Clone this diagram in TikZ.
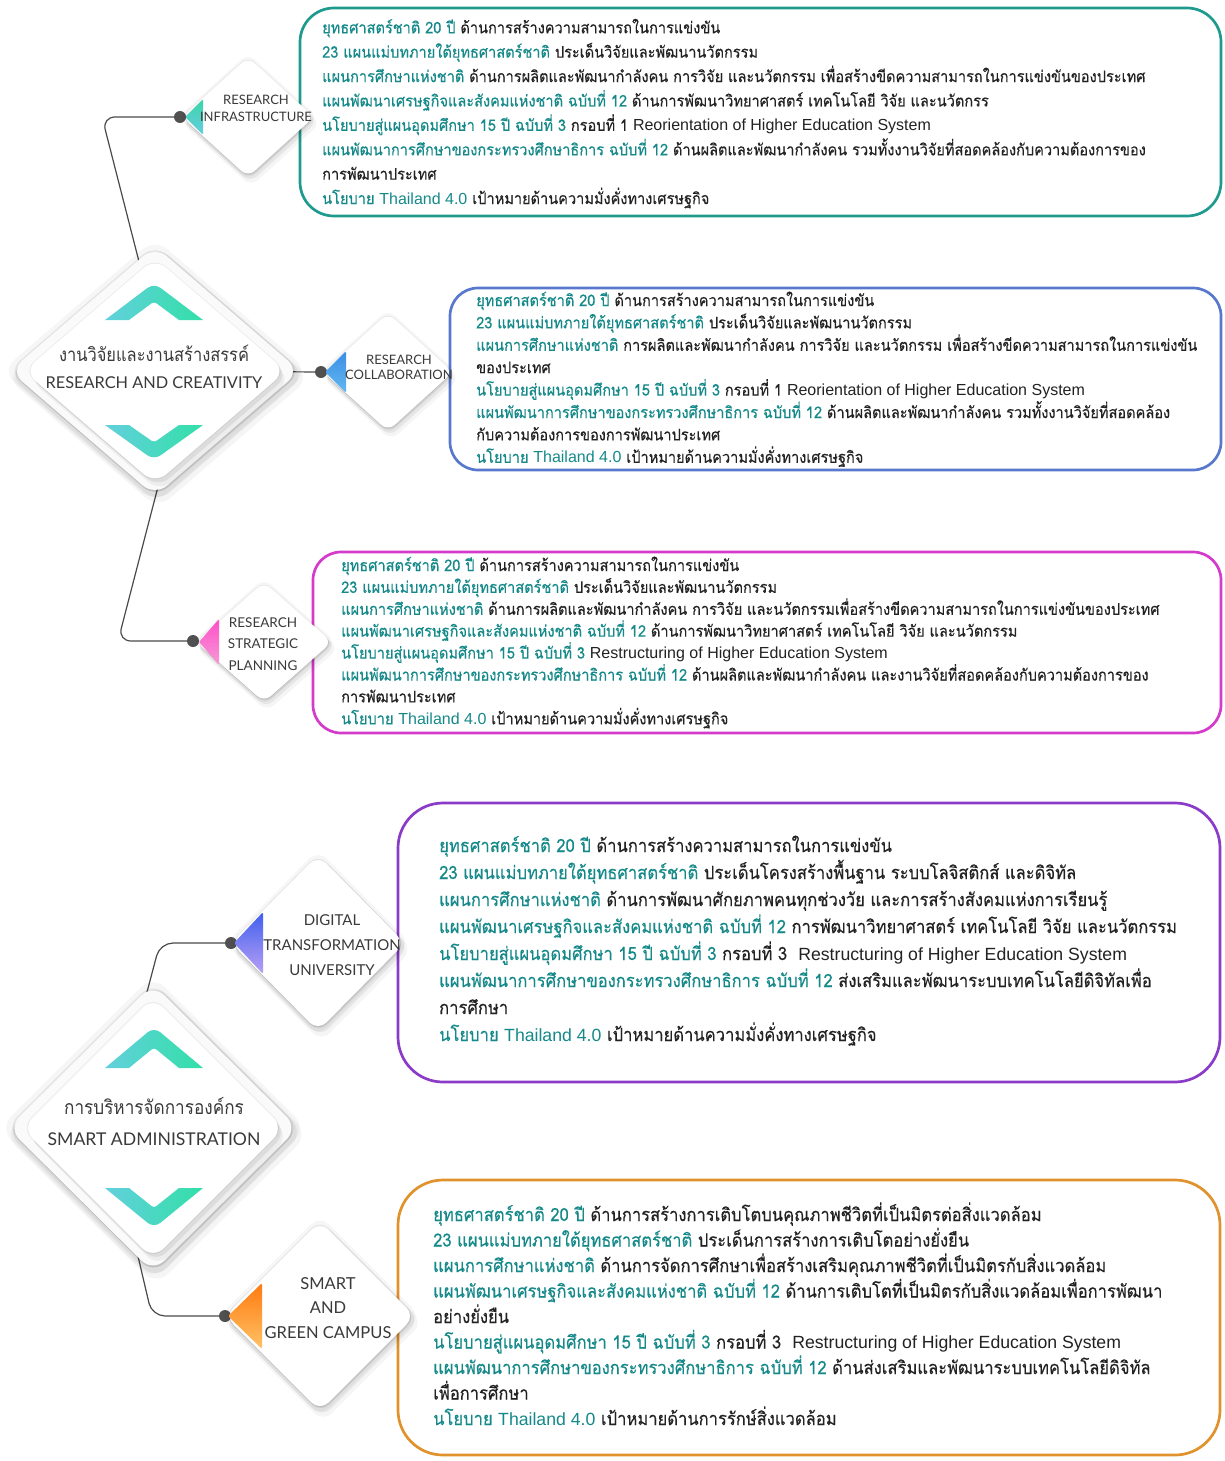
\documentclass[tikz,border=0pt]{standalone}
\usepackage{fontspec}
\usetikzlibrary{shapes.geometric,shadows}
\newfontfamily\thaifont[Script=Thai,FakeStretch=0.91,FakeBold=0.3]{Loma}
\newfontfamily\thaimain[Script=Thai,FakeStretch=0.88]{Loma}
\newfontfamily\enfont{Liberation Sans}
\newfontfamily\enfontL[Scale=0.97]{Liberation Sans}
\newfontfamily\labfont{Lato}
\definecolor{hlc}{HTML}{158989}
\definecolor{txtc}{HTML}{222222}
\definecolor{labc}{HTML}{3A3A3A}
\definecolor{conc}{HTML}{4A4A4A}
\definecolor{dotc}{HTML}{505050}
\definecolor{cTeal}{HTML}{1E9A8E}
\definecolor{cBlue}{HTML}{5878CE}
\definecolor{cMag}{HTML}{D53BCB}
\definecolor{cPur}{HTML}{8A3CC8}
\definecolor{cOra}{HTML}{E0922C}
\definecolor{chL}{HTML}{62D0DC}
\definecolor{chR}{HTML}{33DFA8}
\definecolor{tIa}{HTML}{3AD6A8}\definecolor{tIb}{HTML}{68CCE0}
\definecolor{tCa}{HTML}{3A8EE6}\definecolor{tCb}{HTML}{64B8EF}
\definecolor{tPa}{HTML}{FF4FC8}\definecolor{tPb}{HTML}{F59AD6}
\definecolor{tDa}{HTML}{4060EE}\definecolor{tDb}{HTML}{B8A0F5}
\definecolor{tGa}{HTML}{FF7A10}\definecolor{tGb}{HTML}{FFC266}
\pgfdeclarelayer{bg}
\pgfsetlayers{bg,main}
\newcommand\hl[1]{\textcolor{hlc}{#1}}
\newcommand\en[1]{{\enfont #1}}
\newcommand\enL[1]{{\enfontL #1}}
\newcommand\chevron[3]{% cx, ybase, signed height
  \shade[left color=chL, right color=chR] ({#1-49},#2) [rounded corners=8pt]-- (#1,{#2+(#3)}) [sharp corners]-- ({#1+49},#2) -- ({#1+25},#2) [rounded corners=3pt]-- (#1,{#2+(#3)/2}) [sharp corners]-- ({#1-25},#2) -- cycle;}
\newcommand\tri[6]{% apex x, y, right x, half height, top colour, bottom colour
  \shade[top color=#5, bottom color=#6, rounded corners=1.5pt] (#1,#2) -- (#3,{#2-#4}) -- (#3,{#2+#4}) -- cycle;}
\tikzset{
  x=1pt, y=-1pt,
  tx/.style={anchor=base west, inner sep=0pt, text=txtc},
  txS/.style={tx, font=\thaifont\fontsize{16}{18}\selectfont},
  txL/.style={tx, font=\thaifont\fontsize{18.2}{20}\selectfont},
  frame/.style={draw=#1, line width=2.7pt, fill=white, anchor=north west, inner sep=0pt, outer sep=0pt},
  softshadow/.style={
    general shadow={fill=black, opacity=0.035, shadow scale=1.06},
    general shadow={fill=black, opacity=0.04, shadow xshift=3pt, shadow yshift=-6pt, shadow scale=1.05},
    general shadow={fill=black, opacity=0.06, shadow xshift=2pt, shadow yshift=-4pt, shadow scale=1.025},
    general shadow={fill=black, opacity=0.07, shadow scale=1.015},
    general shadow={fill=black, opacity=0.07, shadow xshift=1pt, shadow yshift=-2pt}},
  sdiam/.style={diamond, fill=white, inner sep=0pt, outer sep=0pt, rounded corners=9pt, softshadow},
  mainout/.style={diamond, fill=black!2, inner sep=0pt, outer sep=0pt, rounded corners=16pt, softshadow},
  mainin/.style={diamond, fill=white, inner sep=0pt, outer sep=0pt, rounded corners=15pt,
    general shadow={fill=black, opacity=0.05, shadow xshift=5pt, shadow yshift=-8pt},
    general shadow={fill=black, opacity=0.07, shadow xshift=3pt, shadow yshift=-4pt},
    general shadow={fill=black, opacity=0.06, shadow scale=1.01}},
  dotn/.style={circle, fill=dotc, minimum size=12pt, inner sep=0pt},
  conn/.style={draw=conc, line width=1.2pt, rounded corners=13pt},
  lab/.style={font=\labfont\fontsize{#1}{#1}\selectfont, text=labc, inner sep=0pt, anchor=base},
  mthai/.style={font=\thaimain\fontsize{#1}{#1}\selectfont, text=labc, inner sep=0pt, anchor=base},
}
\begin{document}
\begin{tikzpicture}
\begin{pgfonlayer}{bg}
\fill[white] (0,0) rectangle (1224,1461);
\end{pgfonlayer}
\useasboundingbox (0,0) rectangle (1224,1461);

% ---------- text frames ----------
\node[frame=cTeal, rounded corners=34pt, minimum width=921pt, minimum height=208pt] (box1) at (300,8) {};
\node[frame=cBlue, rounded corners=28pt, minimum width=771pt, minimum height=182pt] (box2) at (450,288) {};
\node[frame=cMag, rounded corners=28pt, minimum width=908pt, minimum height=181pt] (box3) at (313,552) {};
\node[frame=cPur, rounded corners=45pt, minimum width=822pt, minimum height=279pt] (box4) at (398,803) {};
\node[frame=cOra, rounded corners=45pt, minimum width=822pt, minimum height=275pt] (box5) at (398,1180) {};

% ---------- box 1 ----------
\node[txS] (b1l1) at (322,33.3) {\hl{ยุทธศาสตร์ชาติ 20 ปี} ด้านการสร้างความสามารถในการแข่งขัน};
\node[txS] (b1l2) at (322,57.7) {\hl{23 แผนแม่บทภายใต้ยุทธศาสตร์ชาติ} ประเด็นวิจัยและพัฒนานวัตกรรม};
\node[txS] (b1l3) at (322,82.1) {\hl{แผนการศึกษาแห่งชาติ} ด้านการผลิตและพัฒนากำลังคน การวิจัย และนวัตกรรม เพื่อสร้างขีดความสามารถในการแข่งขันของประเทศ};
\node[txS] (b1l4) at (322,106.5) {\hl{แผนพัฒนาเศรษฐกิจและสังคมแห่งชาติ ฉบับที่ 12} ด้านการพัฒนาวิทยาศาสตร์ เทคโนโลยี วิจัย และนวัตกรร};
\node[txS] (b1l5) at (322,130.9) {\hl{นโยบายสู่แผนอุดมศึกษา 15 ปี ฉบับที่ 3} กรอบที่ 1 \en{Reorientation of Higher Education System}};
\node[txS] (b1l6) at (322,155.3) {\hl{แผนพัฒนาการศึกษาของกระทรวงศึกษาธิการ ฉบับที่ 12} ด้านผลิตและพัฒนากำลังคน รวมทั้งงานวิจัยที่สอดคล้องกับความต้องการของ};
\node[txS] (b1l7) at (322,179.7) {การพัฒนาประเทศ};
\node[txS] (b1l8) at (322,204.1) {\hl{นโยบาย \en{Thailand 4.0}} เป้าหมายด้านความมั่งคั่งทางเศรษฐกิจ};

% ---------- box 2 ----------
\node[txS] (b2l1) at (476,306) {\hl{ยุทธศาสตร์ชาติ 20 ปี} ด้านการสร้างความสามารถในการแข่งขัน};
\node[txS] (b2l2) at (476,328.4) {\hl{23 แผนแม่บทภายใต้ยุทธศาสตร์ชาติ} ประเด็นวิจัยและพัฒนานวัตกรรม};
\node[txS] (b2l3) at (476,350.8) {\hl{แผนการศึกษาแห่งชาติ} การผลิตและพัฒนากำลังคน การวิจัย และนวัตกรรม เพื่อสร้างขีดความสามารถในการแข่งขัน};
\node[txS] (b2l4) at (476,373.2) {ของประเทศ};
\node[txS] (b2l5) at (476,395.6) {\hl{นโยบายสู่แผนอุดมศึกษา 15 ปี ฉบับที่ 3} กรอบที่ 1 \en{Reorientation of Higher Education System}};
\node[txS] (b2l6) at (476,418) {\hl{แผนพัฒนาการศึกษาของกระทรวงศึกษาธิการ ฉบับที่ 12} ด้านผลิตและพัฒนากำลังคน รวมทั้งงานวิจัยที่สอดคล้อง};
\node[txS] (b2l7) at (476,440.4) {กับความต้องการของการพัฒนาประเทศ};
\node[txS] (b2l8) at (476,462.8) {\hl{นโยบาย \en{Thailand 4.0}} เป้าหมายด้านความมั่งคั่งทางเศรษฐกิจ};

% ---------- box 3 ----------
\node[txS] (b3l1) at (341,571) {\hl{ยุทธศาสตร์ชาติ 20 ปี} ด้านการสร้างความสามารถในการแข่งขัน};
\node[txS] (b3l2) at (341,592.9) {\hl{23 แผนแม่บทภายใต้ยุทธศาสตร์ชาติ} ประเด็นวิจัยและพัฒนานวัตกรรม};
\node[txS] (b3l3) at (341,614.8) {\hl{แผนการศึกษาแห่งชาติ} ด้านการผลิตและพัฒนากำลังคน การวิจัย และนวัตกรรมเพื่อสร้างขีดความสามารถในการแข่งขันของประเทศ};
\node[txS] (b3l4) at (341,636.7) {\hl{แผนพัฒนาเศรษฐกิจและสังคมแห่งชาติ ฉบับที่ 12} ด้านการพัฒนาวิทยาศาสตร์ เทคโนโลยี วิจัย และนวัตกรรม};
\node[txS] (b3l5) at (341,658.6) {\hl{นโยบายสู่แผนอุดมศึกษา 15 ปี ฉบับที่ 3} \en{Restructuring of Higher Education System}};
\node[txS] (b3l6) at (341,680.5) {\hl{แผนพัฒนาการศึกษาของกระทรวงศึกษาธิการ ฉบับที่ 12} ด้านผลิตและพัฒนากำลังคน และงานวิจัยที่สอดคล้องกับความต้องการของ};
\node[txS] (b3l7) at (341,702.4) {การพัฒนาประเทศ};
\node[txS] (b3l8) at (341,724.3) {\hl{นโยบาย \en{Thailand 4.0}} เป้าหมายด้านความมั่งคั่งทางเศรษฐกิจ};

% ---------- box 4 ----------
\node[txL] (b4l1) at (439,852) {\hl{ยุทธศาสตร์ชาติ 20 ปี} ด้านการสร้างความสามารถในการแข่งขัน};
\node[txL] (b4l2) at (439,879) {\hl{23 แผนแม่บทภายใต้ยุทธศาสตร์ชาติ} ประเด็นโครงสร้างพื้นฐาน ระบบโลจิสติกส์ และดิจิทัล};
\node[txL] (b4l3) at (439,906) {\hl{แผนการศึกษาแห่งชาติ} ด้านการพัฒนาศักยภาพคนทุกช่วงวัย และการสร้างสังคมแห่งการเรียนรู้};
\node[txL] (b4l4) at (439,933) {\hl{แผนพัฒนาเศรษฐกิจและสังคมแห่งชาติ ฉบับที่ 12} การพัฒนาวิทยาศาสตร์ เทคโนโลยี วิจัย และนวัตกรรม};
\node[txL] (b4l5) at (439,960) {\hl{นโยบายสู่แผนอุดมศึกษา 15 ปี ฉบับที่ 3} กรอบที่ 3\ \ \enL{Restructuring of Higher Education System}};
\node[txL] (b4l6) at (439,987) {\hl{แผนพัฒนาการศึกษาของกระทรวงศึกษาธิการ ฉบับที่ 12} ส่งเสริมและพัฒนาระบบเทคโนโลยีดิจิทัลเพื่อ};
\node[txL] (b4l7) at (439,1014) {การศึกษา};
\node[txL] (b4l8) at (439,1041) {\hl{นโยบาย \enL{Thailand 4.0}} เป้าหมายด้านความมั่งคั่งทางเศรษฐกิจ};

% ---------- box 5 ----------
\node[txL] (b5l1) at (433,1221) {\hl{ยุทธศาสตร์ชาติ 20 ปี} ด้านการสร้างการเติบโตบนคุณภาพชีวิตที่เป็นมิตรต่อสิ่งแวดล้อม};
\node[txL] (b5l2) at (433,1246.5) {\hl{23 แผนแม่บทภายใต้ยุทธศาสตร์ชาติ} ประเด็นการสร้างการเติบโตอย่างยั่งยืน};
\node[txL] (b5l3) at (433,1272) {\hl{แผนการศึกษาแห่งชาติ} ด้านการจัดการศึกษาเพื่อสร้างเสริมคุณภาพชีวิตที่เป็นมิตรกับสิ่งแวดล้อม};
\node[txL] (b5l4) at (433,1297.5) {\hl{แผนพัฒนาเศรษฐกิจและสังคมแห่งชาติ ฉบับที่ 12} ด้านการเติบโตที่เป็นมิตรกับสิ่งแวดล้อมเพื่อการพัฒนา};
\node[txL] (b5l5) at (433,1323) {อย่างยั่งยืน};
\node[txL] (b5l6) at (433,1348.5) {\hl{นโยบายสู่แผนอุดมศึกษา 15 ปี ฉบับที่ 3} กรอบที่ 3\ \ \enL{Restructuring of Higher Education System}};
\node[txL] (b5l7) at (433,1374) {\hl{แผนพัฒนาการศึกษาของกระทรวงศึกษาธิการ ฉบับที่ 12} ด้านส่งเสริมและพัฒนาระบบเทคโนโลยีดิจิทัล};
\node[txL] (b5l8) at (433,1399.5) {เพื่อการศึกษา};
\node[txL] (b5l9) at (433,1425) {\hl{นโยบาย \enL{Thailand 4.0}} เป้าหมายด้านการรักษ์สิ่งแวดล้อม};

% ---------- dots ----------
\node[dotn] (d1) at (180,117) {};
\node[dotn] (d2) at (321,372) {};
\node[dotn] (d3) at (193,641) {};
\node[dotn] (d4) at (231,943) {};
\node[dotn] (d5) at (225,1316) {};

% ---------- main diamonds ----------
\node[mainout, minimum width=290pt, minimum height=250pt] (mA) at (155,371) {};
\node[mainin, minimum width=262pt, minimum height=226pt] (mAi) at (155,371) {};
\node[mainout, minimum width=290pt, minimum height=288pt] (mB) at (153,1128) {};
\node[mainin, minimum width=262pt, minimum height=262pt] (mBi) at (153,1128) {};

\chevron{154}{320}{-37}
\chevron{154}{425}{35}
\chevron{154}{1068}{-41}
\chevron{154}{1188}{40}

\node[mthai=18.7] (tA1) at (154,361) {งานวิจัยและงานสร้างสรรค์};
\node[lab=16.3] (tA2) at (154,388) {RESEARCH AND CREATIVITY};
\node[mthai=19.5] (tB1) at (154,1114) {การบริหารจัดการองค์กร};
\node[lab=17.6] (tB2) at (154,1145) {SMART ADMINISTRATION};

% ---------- sub diamonds ----------
\node[sdiam, minimum width=132pt, minimum height=120pt] (sI) at (248,117) {};
\node[sdiam, minimum width=130pt, minimum height=118pt] (sC) at (388,372) {};
\node[sdiam, minimum width=136pt, minimum height=120pt] (sP) at (264,642) {};
\node[sdiam, minimum width=174pt, minimum height=176pt, rounded corners=12pt] (sD) at (318,943) {};
\node[sdiam, minimum width=190pt, minimum height=190pt, rounded corners=12pt] (sG) at (320,1316) {};

\tri{185}{117}{203}{18}{tIa}{tIb}
\tri{325}{372}{346}{21}{tCa}{tCb}
\tri{199}{642}{219}{23}{tPa}{tPb}
\tri{234}{943}{263}{31}{tDa}{tDb}
\tri{228}{1316}{262}{33}{tGa}{tGb}

\node[lab=13] (lI1) at (256,105) {RESEARCH};
\node[lab=13] (lI2) at (256,122) {INFRASTRUCTURE};
\node[lab=13] (lC1) at (399,364) {RESEARCH};
\node[lab=13] (lC2) at (399,379) {COLLABORATION};
\node[lab=13.5] (lP1) at (263,627) {RESEARCH};
\node[lab=13.5] (lP2) at (263,648) {STRATEGIC};
\node[lab=13.5] (lP3) at (263,670) {PLANNING};
\node[lab=15] (lD1) at (332,925) {DIGITAL};
\node[lab=15] (lD2) at (332,950) {TRANSFORMATION};
\node[lab=15] (lD3) at (332,975) {UNIVERSITY};
\node[lab=16.5] (lG1) at (328,1289) {SMART};
\node[lab=16.5] (lG2) at (328,1313) {AND};
\node[lab=16.5] (lG3) at (328,1338) {GREEN CAMPUS};

% ---------- connectors ----------
\begin{pgfonlayer}{bg}
\draw[conn] ([xshift=12pt]mA.center) -- (102,117) -- (d1.center);
\draw[conn] (mA.center) -- (d2.center);
\draw[conn] ([xshift=33pt]mA.center) -- (118,641) -- (d3.center);
\draw[conn] ([xshift=-42pt]mB.center) -- (160,943) -- (d4.center);
\draw[conn] ([xshift=-45pt]mB.center) -- (152,1316) -- (d5.center);
\end{pgfonlayer}
\end{tikzpicture}
\end{document}
